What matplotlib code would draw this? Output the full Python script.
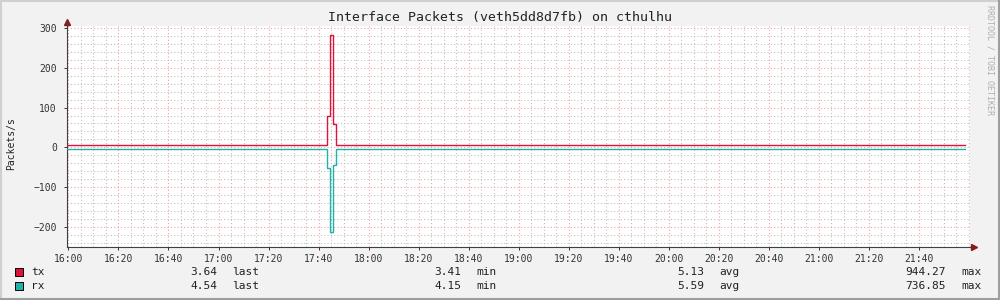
import matplotlib
matplotlib.use("Agg")
import matplotlib.pyplot as plt
from matplotlib.lines import Line2D
from matplotlib.patches import Rectangle

# time in minutes after 16:00, step series (value holds until next point)
t_min = [-0.7, 103.2, 104.7, 105.6, 106.8, 358.5]
tx_vals = [5, 80, 282, 58, 5, 5]
rx_vals = [-5, -53, -214, -45, -5, -5]

x_ticks = [0, 20, 40, 60, 80, 100, 120, 140, 160, 180, 200, 220, 240, 260, 280, 300, 320, 340]
x_labels = ["16:00", "16:20", "16:40", "17:00", "17:20", "17:40", "18:00", "18:20", "18:40",
            "19:00", "19:20", "19:40", "20:00", "20:20", "20:40", "21:00", "21:20", "21:40"]
y_ticks = [-200, -100, 0, 100, 200, 300]

series = ["tx", "rx"]
colors = ["#DC143C", "#20B2AA"]
legend_last = ["3.64", "4.54"]
legend_min = ["3.41", "4.15"]
legend_avg = ["5.13", "5.59"]
legend_max = ["944.27", "736.85"]

W, H = 1000, 300
MONO = "DejaVu Sans Mono"
plt.rcParams["font.family"] = MONO

fig = plt.figure(figsize=(W / 100, H / 100), dpi=100, facecolor="#F2F2F2")
ax = fig.add_axes([66.7 / W, (H - 246.6) / H, (970 - 66.7) / W, (246.6 - 25.6) / H])
ax.set_facecolor("white")

# data lines
ax.step(t_min, tx_vals, where="post", color=colors[0], lw=1.0, zorder=3)
ax.step(t_min, rx_vals, where="post", color=colors[1], lw=1.0, zorder=3)

ax.set_xlim(-0.7, 360.5)
ax.set_ylim(-250, 306.5)

ax.set_xticks(x_ticks)
ax.set_xticklabels(x_labels)
ax.set_xticks(range(0, 361, 5), minor=True)
ax.set_yticks(y_ticks)
ax.set_yticks(range(-240, 301, 20), minor=True)

ax.tick_params(which="both", labelsize=7, colors="#333333", length=2, width=0.7, pad=3)
ax.tick_params(which="minor", length=0)
ax.tick_params(axis="y", pad=5)

dots = (0, (1, 2))
ax.grid(which="minor", color="#C0C0C0", ls=dots, lw=0.8, zorder=0)
ax.grid(which="major", color="#F4A0A0", ls=dots, lw=0.8, zorder=1)
ax.set_axisbelow(True)

for s in ["top", "right"]:
    ax.spines[s].set_visible(False)
for s in ["left", "bottom"]:
    ax.spines[s].set_color("#404040")
    ax.spines[s].set_linewidth(0.8)

# axis arrows
ax.plot([0], [1.015], marker="^", ms=5, color="#8B1A1A", transform=ax.transAxes, clip_on=False)
ax.plot([0, 0], [1.0, 1.015], color="#404040", lw=0.8, transform=ax.transAxes, clip_on=False)
ax.plot([1.004], [0], marker=">", ms=5, color="#8B1A1A", transform=ax.transAxes, clip_on=False)

fig.text(0.5, 1 - 18 / H, "Interface Packets (veth5dd8d7fb) on cthulhu", ha="center", va="center",
         fontsize=9.5, color="#222222")
fig.text(11 / W, 1 - 144 / H, "Packets/s", rotation=90, ha="center", va="center",
         fontsize=7, color="#222222")
fig.text(990 / W, 1 - 5 / H, "RRDTOOL / TOBI OETIKER", rotation=-90, ha="center", va="top",
         fontsize=6, color="#B0B0B0")

# legend rows
row_y = [272, 286]
for i, name in enumerate(series):
    yy = 1 - row_y[i] / H
    fig.patches.append(Rectangle((15 / W, yy - 4 / H), 8 / W, 8 / H, transform=fig.transFigure,
                                 facecolor=colors[i], edgecolor="black", lw=0.7))
    fig.text(31 / W, yy, name, ha="left", va="center", fontsize=8, color="#222222")
    cols = [(legend_last[i], "last", 217), (legend_min[i], "min", 461),
            (legend_avg[i], "avg", 704), (legend_max[i], "max", 946)]
    for val, lab, xr in cols:
        fig.text(xr / W, yy, val, ha="right", va="center", fontsize=8, color="#222222")
        fig.text((xr + 15) / W, yy, lab, ha="left", va="center", fontsize=8, color="#222222")

# 3d frame around the canvas
fig.add_artist(Line2D([0, 1], [1 - 1 / H, 1 - 1 / H], transform=fig.transFigure, color="#D0D0D0", lw=1.5))
fig.add_artist(Line2D([1 / W, 1 / W], [0, 1], transform=fig.transFigure, color="#D0D0D0", lw=1.5))
fig.add_artist(Line2D([0, 1], [1 / H, 1 / H], transform=fig.transFigure, color="#9E9E9E", lw=1.5))
fig.add_artist(Line2D([1 - 1 / W, 1 - 1 / W], [0, 1], transform=fig.transFigure, color="#9E9E9E", lw=1.5))

fig.savefig("out.png", dpi=100, facecolor=fig.get_facecolor())
